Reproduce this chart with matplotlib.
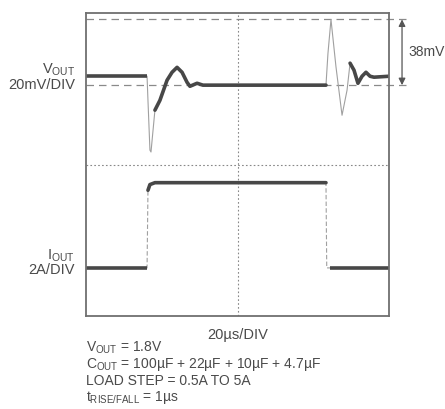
import numpy as np
import matplotlib.pyplot as plt

plt.rcParams['font.family'] = ['Liberation Sans', 'DejaVu Sans']
plt.rcParams['mathtext.fontset'] = 'custom'
plt.rcParams['mathtext.rm'] = 'Liberation Sans'

# scope trace of V_OUT (time in us, deviation in mV)
vout_t = [0, 40.3, 40.9, 42.2, 42.9, 45.5, 48.8, 53.5, 56.8, 60.1, 63.4, 66.7, 68.6, 73.3, 77.2,
          158.4, 159.7, 161.7, 165.0, 169.0, 172.3, 174.3, 176.9, 179.5, 182.2, 184.8, 187.5, 190.1, 200]
vout_mv = [0, 0, -12.7, -39, -40, -17.9, -12.7, -2.1, 2.1, 4.7, 2.1, -3.2, -5.3, -3.7, -4.7,
           -4.7, 12, 30, 5, -20.6, -7.4, 6.9, 3.2, -3.7, 0, 2.1, 0, -0.5, 0]

# scope trace of I_OUT (time in us, current in A)
iout_t = [0, 40.3, 40.9, 42.2, 45.5, 158.4, 158.9, 161.0, 200]
iout_a = [0.5, 0.5, 4.6, 4.9, 5.0, 5.0, 0.5, 0.5, 0.5]

vout_hi = 30.0   # upper marker line (mV)
vout_lo = -4.7   # lower marker line (mV)

# screen: 10 div x 8 div, 20us/div
V_OFF = 6.33     # V_OUT 0 mV position in div
V_SCALE = 20.0   # mV/div
I_OFF = 1.27     # I_OUT 0.5A position in div
I_SCALE = 2.0    # A/div

def v2div(v):
    return V_OFF + np.array(v) / V_SCALE

def i2div(i):
    return I_OFF + (np.array(i) - 0.5) / I_SCALE

trace_c = '#474747'
edge_c = '#a0a0a0'
text_c = '#4a4a4a'

fig = plt.figure(figsize=(4.45, 4.09), dpi=100)
ax = fig.add_axes([86 / 445, 1 - 316 / 409, 303 / 445, 303 / 409])
ax.set_xlim(0, 200)
ax.set_ylim(0, 8)
ax.set_xticks([])
ax.set_yticks([])
for s in ax.spines.values():
    s.set_color('#707070')
    s.set_linewidth(1.3)

# center graticule
ax.axvline(100, color='#888888', lw=0.8, ls=(0, (1.5, 2)))
ax.axhline(4, color='#888888', lw=0.8, ls=(0, (1.5, 2)))

# marker lines for the 38mV swing
for lv in (vout_hi, vout_lo):
    ax.plot([0, 214], [v2div(lv), v2div(lv)], color='#8a8a8a', lw=0.9,
            ls=(0, (6, 4)), clip_on=False)
ax.annotate('', xy=(208.6, v2div(vout_hi)), xytext=(208.6, v2div(vout_lo)),
            arrowprops=dict(arrowstyle='<|-|>', color='#555555', lw=0.9,
                            mutation_scale=10, shrinkA=0, shrinkB=0),
            annotation_clip=False)
ax.text(212.5, (v2div(vout_hi) + v2div(vout_lo)) / 2, '38mV', color=text_c,
        fontsize=10, va='center', ha='left', clip_on=False)

# V_OUT trace: thin on fast edges, thick on slow parts
vt = np.array(vout_t)
vy = v2div(vout_mv)
ax.plot(vt, vy, color=edge_c, lw=0.8)
ax.plot(vt[:2], vy[:2], color=trace_c, lw=2.6, solid_capstyle='butt')
ax.plot(vt[5:16], vy[5:16], color=trace_c, lw=2.6, solid_capstyle='round')
ax.plot(vt[21:], vy[21:], color=trace_c, lw=2.6, solid_capstyle='round')

# I_OUT trace
it = np.array(iout_t)
iy = i2div(iout_a)
ax.plot(it, iy, color=edge_c, lw=0.8, ls=(0, (4, 2)))
ax.plot(it[:2], iy[:2], color=trace_c, lw=2.6, solid_capstyle='butt')
ax.plot(it[2:6], iy[2:6], color=trace_c, lw=2.6, solid_capstyle='round')
ax.plot(it[7:], iy[7:], color=trace_c, lw=2.6, solid_capstyle='butt')

# channel labels
fig.text(75 / 445, 1 - 70 / 409, r'V$_\mathregular{OUT}$', color=text_c, fontsize=10.5,
         ha='right', va='center')
fig.text(75 / 445, 1 - 85 / 409, '20mV/DIV', color=text_c, fontsize=10.5,
         ha='right', va='center')
fig.text(75 / 445, 1 - 256 / 409, r'I$_\mathregular{OUT}$', color=text_c, fontsize=10.5,
         ha='right', va='center')
fig.text(75 / 445, 1 - 270 / 409, '2A/DIV', color=text_c, fontsize=10.5,
         ha='right', va='center')
fig.text(238 / 445, 1 - 335 / 409, '20µs/DIV', color=text_c, fontsize=10.5,
         ha='center', va='center')

notes = [r'V$_\mathregular{OUT}$ = 1.8V',
         r'C$_\mathregular{OUT}$ = 100µF + 22µF + 10µF + 4.7µF',
         'LOAD STEP = 0.5A TO 5A',
         r't$_\mathregular{RISE/FALL}$ = 1µs']
for k, line in enumerate(notes):
    fig.text(86 / 445, 1 - (348 + k * 16.5) / 409, line, color=text_c, fontsize=10,
             ha='left', va='center')

fig.savefig('out.png', dpi=100)
